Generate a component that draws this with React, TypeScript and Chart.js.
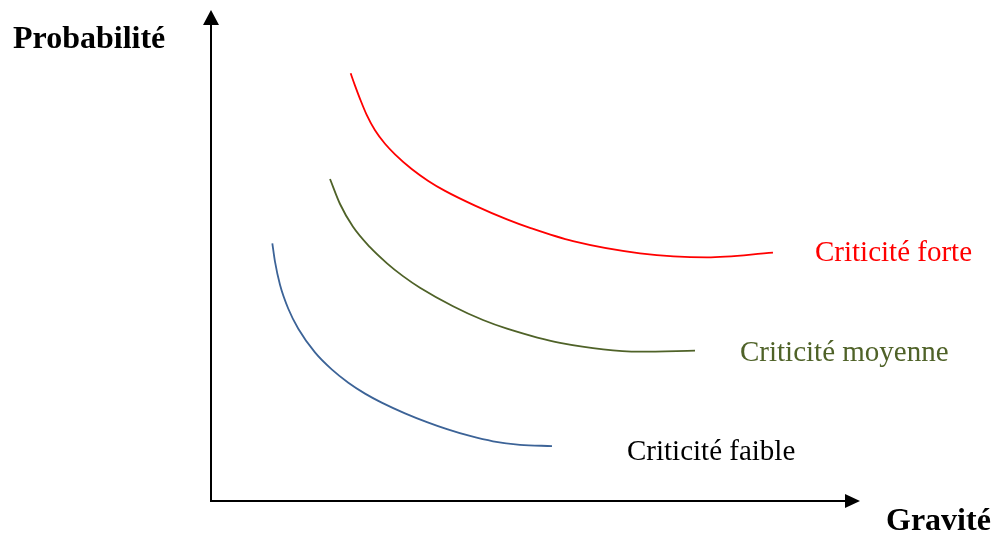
import React, { useEffect, useRef } from "react";
import { Chart, registerables } from "chart.js";

Chart.register(...registerables);

// Data in abstract units (Gravité on x, Probabilité on y), both 0..10
const forteX = [2.152, 2.219, 2.296, 2.399, 2.527, 2.681, 2.835, 3.092, 3.348, 3.606, 4.068, 4.561, 4.915, 5.578, 6.61, 7.643, 8.659];
const forteY = [8.711, 8.46, 8.191, 7.864, 7.55, 7.275, 7.061, 6.762, 6.519, 6.316, 6.016, 5.735, 5.562, 5.291, 5.045, 4.963, 5.057];

const moyenneX = [1.834, 1.988, 2.188, 2.45, 2.712, 2.958, 3.22, 3.729, 4.191, 4.561, 5.378, 6.61, 7.458];
const moyenneY = [6.558, 6.049, 5.585, 5.169, 4.841, 4.58, 4.344, 3.967, 3.686, 3.511, 3.22, 3.041, 3.063];

const faibleX = [0.945, 0.986, 1.063, 1.191, 1.345, 1.602, 1.86, 2.116, 2.373, 2.63, 2.989, 3.328, 3.636, 3.991, 4.345, 4.761, 5.254];
const faibleY = [5.248, 4.874, 4.405, 3.916, 3.509, 3.026, 2.68, 2.409, 2.187, 2.004, 1.786, 1.607, 1.464, 1.324, 1.216, 1.145, 1.118];

const seriesLabels = ["Criticité forte", "Criticité moyenne", "Criticité faible"];
const axisTitles = { x: "Gravité", y: "Probabilité" };

const toPoints = (xs: number[], ys: number[]) => xs.map((x, i) => ({ x, y: ys[i] }));

const RED = "#FF0000";
const OLIVE = "#4F6228";
const BLUE = "#3C6397";

const overlayPlugin = {
  id: "overlay",
  afterDraw(chart: any) {
    const ctx = chart.ctx as CanvasRenderingContext2D;
    const xs = chart.scales.x;
    const ys = chart.scales.y;
    const x0 = xs.getPixelForValue(0);
    const x1 = xs.getPixelForValue(10);
    const y0 = ys.getPixelForValue(0);
    const y1 = ys.getPixelForValue(10);
    ctx.save();
    ctx.strokeStyle = "#000";
    ctx.fillStyle = "#000";
    ctx.lineWidth = 2;
    // vertical axis
    ctx.beginPath();
    ctx.moveTo(x0, y0 + 1);
    ctx.lineTo(x0, y1 + 12);
    ctx.stroke();
    ctx.beginPath();
    ctx.moveTo(x0, y1);
    ctx.lineTo(x0 - 8, y1 + 15);
    ctx.lineTo(x0 + 8, y1 + 15);
    ctx.closePath();
    ctx.fill();
    // horizontal axis
    ctx.beginPath();
    ctx.moveTo(x0 - 1, y0);
    ctx.lineTo(x1 - 12, y0);
    ctx.stroke();
    ctx.beginPath();
    ctx.moveTo(x1, y0);
    ctx.lineTo(x1 - 15, y0 - 7);
    ctx.lineTo(x1 - 15, y0 + 7);
    ctx.closePath();
    ctx.fill();

    // axis titles
    ctx.textBaseline = "alphabetic";
    ctx.textAlign = "left";
    ctx.font = "bold 32px 'Liberation Serif', 'Times New Roman', serif";
    ctx.fillText(axisTitles.y, 13, 48);
    ctx.fillText(axisTitles.x, 886, 530);

    // series labels
    ctx.font = "29px 'Liberation Serif', 'Times New Roman', serif";
    ctx.fillStyle = RED;
    ctx.fillText(seriesLabels[0], 815, 261);
    ctx.fillStyle = OLIVE;
    ctx.fillText(seriesLabels[1], 740, 361);
    ctx.fillStyle = "#000";
    ctx.fillText(seriesLabels[2], 627, 460);
    ctx.restore();
  },
};

export default function App() {
  const ref = useRef<HTMLCanvasElement | null>(null);
  useEffect(() => {
    if (!ref.current) return;
    const chart = new Chart(ref.current, {
      type: "line",
      data: {
        datasets: [
          { label: seriesLabels[0], data: toPoints(forteX, forteY), borderColor: RED },
          { label: seriesLabels[1], data: toPoints(moyenneX, moyenneY), borderColor: OLIVE },
          { label: seriesLabels[2], data: toPoints(faibleX, faibleY), borderColor: BLUE },
        ].map((d) => ({
          ...d,
          borderWidth: 1.8,
          pointRadius: 0,
          fill: false,
          cubicInterpolationMode: "monotone" as const,
        })),
      },
      options: {
        animation: false,
        responsive: false,
        maintainAspectRatio: false,
        layout: { padding: { left: 211, right: 134, top: 10, bottom: 32 } },
        scales: {
          x: { type: "linear", min: 0, max: 10, display: false },
          y: { type: "linear", min: 0, max: 10, display: false },
        },
        plugins: { legend: { display: false }, tooltip: { enabled: false } },
      },
      plugins: [overlayPlugin],
    });
    return () => chart.destroy();
  }, []);
  return (
    <div style={{ position: "fixed", left: 0, top: 0, width: 994, height: 533, background: "#fff" }}>
      <canvas ref={ref} width={994} height={533} />
    </div>
  );
}
